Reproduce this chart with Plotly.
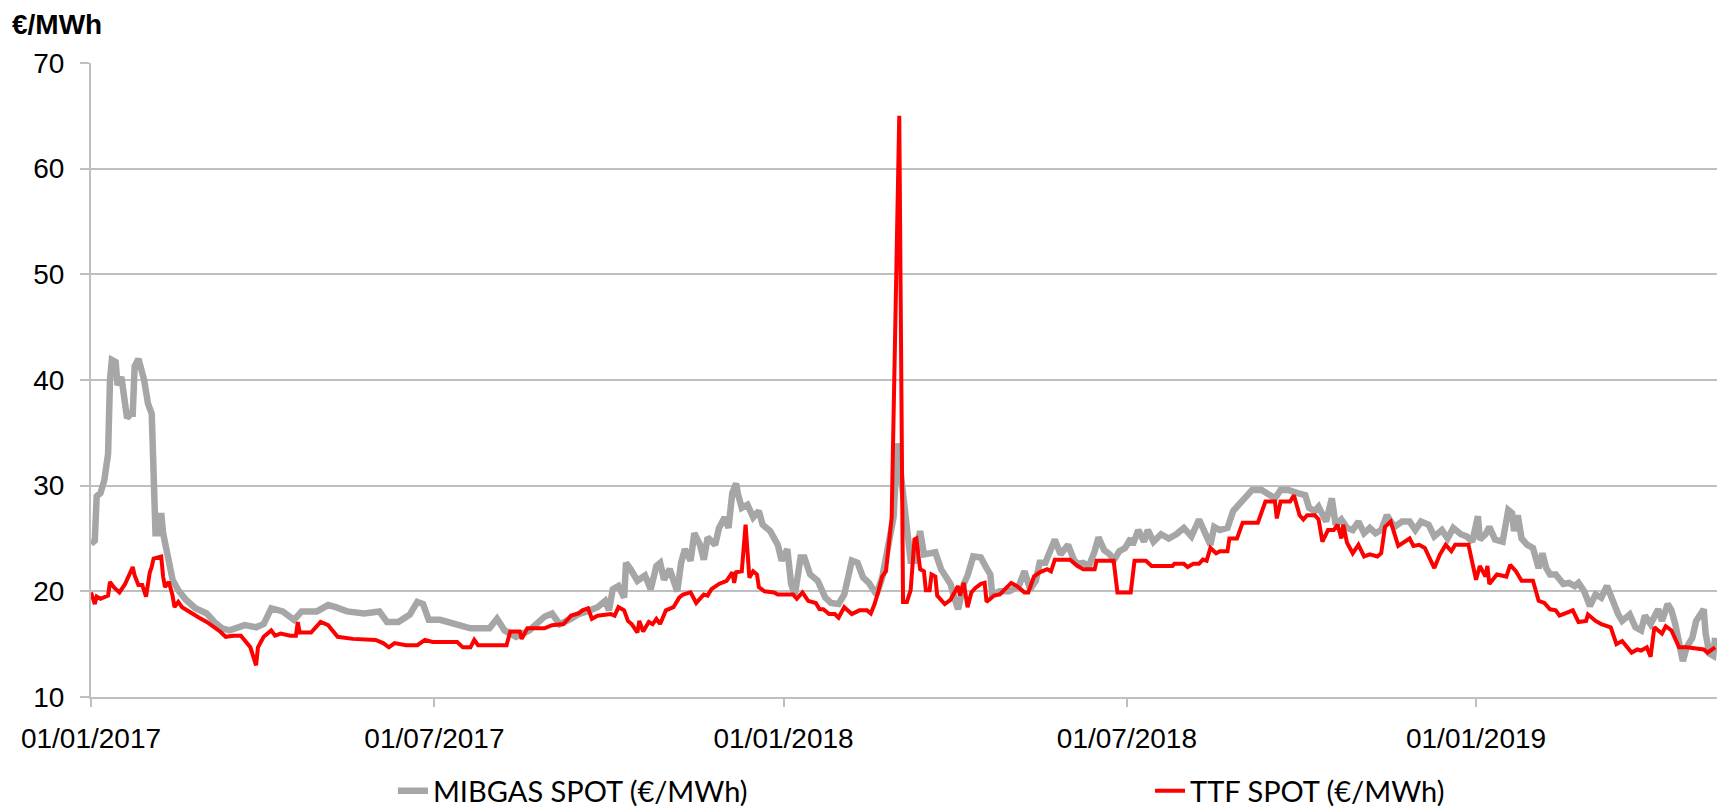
import pandas as pd
import plotly.graph_objects as go

# ---- data (days counted from 01/01/2017) ----
START = "2017-01-01"

mibgas_day = [0, 2, 3, 5, 7, 9, 10, 11, 13, 14, 16, 18, 19, 21, 22, 23, 25, 28, 30, 32,
              33, 34, 35, 37, 38, 40, 43, 46, 50, 55, 61, 65, 69, 73, 81, 87, 91, 95, 101, 107,
              111, 119, 125, 129, 135, 144, 152, 156, 162, 168, 172, 175, 178, 184, 192, 200, 210, 214, 218, 224,
              231, 239, 243, 247, 253, 257, 263, 267, 271, 273, 275, 278, 281, 282, 284, 288, 292, 295, 298, 300,
              302, 305, 309, 311, 313, 316, 318, 321, 323, 325, 329, 331, 334, 336, 338, 340, 341, 343, 346, 349,
              352, 354, 358, 362, 364, 367, 369, 371, 374, 376, 379, 383, 387, 390, 394, 397, 399, 401, 404, 407,
              410, 414, 417, 420, 423, 425, 428, 430, 432, 434, 437, 439, 443, 445, 448, 451, 453, 455, 457, 460,
              462, 465, 469, 472, 474, 475, 479, 484, 489, 492, 495, 498, 500, 503, 505, 508, 511, 515, 518, 520,
              523, 526, 529, 531, 534, 537, 539, 542, 545, 548, 549, 552, 555, 557, 560, 564, 568, 572, 576, 580,
              584, 587, 590, 592, 595, 599, 602, 605, 608, 612, 617, 621, 624, 627, 631, 636, 640, 642, 645, 647,
              651, 654, 656, 659, 662, 665, 668, 671, 674, 677, 680, 683, 687, 691, 695, 698, 701, 705, 708, 712,
              715, 718, 722, 725, 728, 731, 732, 735, 737, 740, 744, 747, 749, 750, 752, 754, 757, 760, 763, 765,
              767, 769, 772, 776, 779, 782, 784, 787, 790, 793, 796, 799, 802, 805, 807, 811, 814, 817, 819, 822,
              826, 828, 831, 833, 835, 837, 839, 841, 844, 846, 848, 850, 851, 853, 855, 856]
mibgas_val = [24.5, 24.8, 29.0, 29.3, 30.5, 33.0, 40.0, 41.9, 41.7, 39.5, 40.3, 37.2, 36.4, 36.8, 36.8, 41.3, 42.0, 40.0, 37.8, 36.8,
              32.0, 25.5, 25.5, 27.4, 25.5, 23.6, 21.1, 20.1, 19.2, 18.4, 17.9, 17.1, 16.5, 16.3, 16.8, 16.6, 16.9, 18.4, 18.1, 17.3,
              18.1, 18.1, 18.7, 18.5, 18.1, 17.9, 18.1, 17.1, 17.1, 17.8, 19.0, 18.8, 17.3, 17.3, 16.9, 16.5, 16.5, 17.4, 16.3, 15.7,
              16.3, 17.6, 17.9, 16.9, 17.4, 17.85, 18.2, 18.5, 19.1, 18.2, 20.2, 20.5, 19.4, 22.7, 22.2, 21.0, 21.5, 20.2, 22.4, 22.7,
              21.1, 22.1, 20.0, 22.7, 24.0, 22.9, 25.5, 24.4, 23.0, 25.1, 24.4, 26.0, 27.0, 26.0, 29.3, 30.2, 29.2, 27.9, 28.2, 27.0,
              27.6, 26.3, 25.7, 24.4, 22.9, 24.0, 20.7, 19.7, 23.2, 23.2, 21.6, 21.0, 19.4, 18.9, 18.8, 19.7, 21.3, 22.9, 22.7, 21.3,
              20.8, 19.7, 21.3, 24.1, 27.0, 34.0, 29.5, 26.6, 22.9, 22.9, 25.7, 23.5, 23.7, 23.7, 22.1, 21.3, 20.7, 19.4, 18.3, 20.7,
              21.5, 23.3, 23.2, 22.2, 21.6, 19.7, 20.0, 20.0, 20.5, 21.9, 20.2, 21.0, 22.7, 22.7, 23.5, 24.9, 23.5, 24.4, 23.0, 22.6,
              22.7, 22.4, 23.8, 25.1, 23.9, 23.5, 22.9, 23.8, 24.1, 25.0, 24.4, 25.8, 24.7, 25.8, 24.7, 25.4, 25.0, 25.4, 26.0, 25.2,
              26.8, 25.4, 24.4, 26.1, 25.8, 26.0, 27.6, 28.2, 28.8, 29.6, 29.6, 29.1, 28.8, 29.6, 29.6, 29.3, 29.1, 27.9, 27.6, 28.0,
              26.6, 28.8, 26.3, 26.8, 26.0, 25.8, 26.6, 25.5, 26.0, 25.5, 25.8, 27.2, 26.1, 26.6, 26.6, 25.8, 26.6, 26.3, 25.2, 25.8,
              25.0, 26.0, 25.4, 25.2, 24.7, 27.1, 24.9, 25.4, 26.1, 24.9, 24.7, 27.7, 27.4, 25.7, 27.2, 25.0, 24.4, 24.1, 22.2, 23.6,
              22.2, 21.6, 21.6, 20.7, 20.8, 20.5, 20.8, 20.0, 18.6, 19.7, 19.4, 20.5, 19.1, 17.8, 17.2, 17.8, 16.6, 16.3, 17.7, 16.9,
              18.3, 17.2, 18.8, 18.2, 16.9, 14.7, 13.4, 14.7, 15.6, 17.2, 17.8, 18.3, 16.0, 14.1, 13.9, 15.6]

ttf_day = [0, 2, 3, 5, 9, 10, 12, 15, 18, 22, 23, 25, 27, 29, 31, 32, 33, 37, 38, 39,
           41, 43, 44, 46, 48, 53, 57, 61, 65, 68, 71, 75, 79, 82, 84, 87, 88, 91, 95, 97,
           100, 105, 108, 109, 110, 116, 121, 125, 130, 138, 145, 150, 154, 157, 160, 166, 172, 176, 180, 193,
           196, 200, 202, 204, 219, 221, 226, 227, 230, 239, 243, 249, 253, 257, 259, 262, 264, 267, 274, 276,
           278, 281, 283, 285, 288, 289, 291, 294, 296, 298, 300, 303, 307, 310, 312, 316, 319, 323, 325, 327,
           331, 335, 338, 339, 340, 343, 345, 347, 349, 351, 352, 355, 360, 362, 370, 372, 375, 378, 382, 384,
           386, 389, 392, 394, 397, 401, 405, 409, 411, 413, 415, 417, 419, 420, 422, 426, 428, 430, 432, 434,
           435, 437, 439, 440, 442, 443, 445, 446, 450, 453, 457, 458, 460, 462, 464, 466, 469, 471, 472, 476,
           479, 485, 488, 492, 494, 497, 500, 504, 506, 508, 516, 520, 523, 529, 530, 539, 541, 548, 550, 556,
           559, 570, 571, 576, 578, 581, 584, 586, 588, 590, 593, 595, 599, 600, 604, 607, 615, 619, 624, 625,
           627, 632, 634, 637, 639, 641, 645, 647, 649, 652, 655, 657, 659, 660, 662, 665, 668, 671, 674, 678,
           680, 682, 685, 689, 692, 695, 697, 700, 703, 706, 708, 711, 714, 717, 719, 726, 728, 730, 732, 735,
           736, 737, 741, 746, 748, 751, 754, 760, 763, 766, 769, 772, 774, 778, 781, 784, 788, 789, 793, 796,
           801, 804, 807, 812, 815, 817, 820, 822, 824, 828, 830, 833, 837, 841, 850, 852, 856]
ttf_val = [19.9, 18.8, 19.5, 19.3, 19.6, 20.9, 20.4, 19.9, 20.7, 22.3, 21.5, 20.6, 20.6, 19.5, 21.8, 22.3, 23.1, 23.3, 21.4, 20.4,
           20.9, 19.6, 18.5, 19.0, 18.5, 17.9, 17.5, 17.1, 16.6, 16.2, 15.7, 15.8, 15.8, 15.2, 14.7, 13.0, 14.7, 15.7, 16.3, 15.8,
           16.0, 15.8, 15.8, 17.1, 16.1, 16.1, 17.1, 16.8, 15.7, 15.5, 15.4, 15.4, 15.1, 14.7, 15.1, 14.9, 14.9, 15.4, 15.2, 15.2,
           14.7, 14.7, 15.4, 14.9, 14.9, 16.2, 16.2, 15.5, 16.5, 16.5, 16.8, 16.9, 17.7, 17.9, 18.2, 18.4, 17.4, 17.7, 17.85, 17.7,
           18.5, 18.2, 17.2, 16.9, 16.1, 17.2, 16.2, 17.1, 16.9, 17.4, 16.9, 18.2, 18.5, 19.4, 19.7, 19.9, 18.9, 19.7, 19.6, 20.2,
           20.7, 21.0, 21.8, 20.8, 21.8, 21.9, 26.3, 21.3, 21.9, 21.6, 20.4, 20.0, 19.9, 19.7, 19.7, 19.3, 19.9, 19.1, 18.9, 18.3,
           18.3, 17.85, 17.85, 17.5, 18.5, 17.85, 18.2, 18.2, 17.9, 18.8, 20.0, 21.4, 21.9, 23.8, 27.0, 65.0, 19.0, 19.0, 20.1, 24.9,
           25.0, 22.1, 21.9, 20.1, 20.1, 21.6, 21.4, 19.6, 18.8, 19.2, 20.5, 19.6, 20.8, 18.5, 19.9, 20.3, 20.7, 20.8, 19.0, 19.6,
           19.7, 20.8, 20.5, 19.9, 19.9, 21.4, 21.8, 22.1, 21.9, 23.0, 23.0, 22.4, 22.1, 22.1, 22.9, 22.9, 19.9, 19.9, 22.9, 22.9,
           22.4, 22.4, 22.6, 22.6, 22.3, 22.6, 22.6, 23.0, 22.9, 24.1, 23.6, 23.8, 23.8, 25.0, 25.0, 26.5, 26.5, 28.5, 28.5, 26.9,
           28.5, 28.5, 29.1, 27.2, 26.8, 27.2, 27.2, 26.8, 24.7, 25.8, 25.8, 26.3, 25.0, 26.3, 24.6, 23.6, 24.4, 23.3, 23.5, 23.3,
           23.6, 26.1, 26.6, 24.3, 24.7, 25.0, 24.3, 24.4, 24.1, 22.9, 22.2, 23.5, 24.4, 23.8, 24.4, 24.4, 22.5, 21.1, 22.4, 21.4,
           22.4, 20.7, 21.6, 21.4, 22.5, 21.9, 21.0, 21.0, 19.1, 18.9, 18.3, 18.2, 17.7, 18.0, 18.2, 17.1, 17.2, 17.8, 17.2, 16.9,
           16.6, 15.0, 15.3, 14.2, 14.5, 14.4, 14.7, 13.8, 16.6, 16.0, 16.7, 16.3, 14.7, 14.7, 14.5, 14.2, 14.7]

x_tick_dates = ["2017-01-01", "2017-07-01", "2018-01-01", "2018-07-01", "2019-01-01"]
x_tick_text = ["01/01/2017", "01/07/2017", "01/01/2018", "01/07/2018", "01/01/2019"]
x_range = ["2017-01-01", "2019-05-08"]
y_range = [10, 70]

series_names = ["MIBGAS SPOT (€/MWh)", "TTF SPOT (€/MWh)"]
y_title = "€/MWh"


def to_dates(days):
    return pd.Timestamp(START) + pd.to_timedelta(days, unit="D")


GRID = "#BFBFBF"
AXFONT = dict(family="Liberation Sans, Arial, sans-serif", size=28, color="#000000")
LEGFONT = dict(family="Lato, sans-serif", size=29, color="#000000")

fig = go.Figure()
fig.add_trace(go.Scatter(
    x=to_dates(mibgas_day), y=mibgas_val, mode="lines", name=series_names[0],
    line=dict(color="#A6A6A6", width=6.5), legend="legend",
))
fig.add_trace(go.Scatter(
    x=to_dates(ttf_day), y=ttf_val, mode="lines", name=series_names[1],
    line=dict(color="#FF0000", width=4), legend="legend2",
))

# the page body adds an 8px margin, so the figure is 8px smaller than the window
fig.update_layout(
    width=1725, height=802, autosize=False,
    paper_bgcolor="white", plot_bgcolor="white",
    margin=dict(l=83, r=16, t=55, b=113, autoexpand=False),
    showlegend=True,
    legend=dict(
        orientation="h", x=0.1857, xanchor="left", y=-0.148, yanchor="middle",
        font=LEGFONT, bgcolor="rgba(0,0,0,0)",
    ),
    legend2=dict(
        orientation="h", x=0.6513, xanchor="left", y=-0.148, yanchor="middle",
        font=LEGFONT, bgcolor="rgba(0,0,0,0)",
    ),
    annotations=[dict(
        text="<b>" + y_title + "</b>", xref="paper", yref="paper",
        x=-0.0492, y=1.0868, xanchor="left", yanchor="top", showarrow=False,
        borderpad=0,
        font=dict(family="Liberation Sans, Arial, sans-serif", size=28, color="#000000"),
    )],
)

fig.update_xaxes(
    type="date", range=x_range, automargin=False,
    tickvals=x_tick_dates, ticktext=x_tick_text,
    showgrid=False, zeroline=False,
    showline=True, linecolor=GRID, linewidth=2,
    ticks="outside", ticklen=8, tickwidth=2, tickcolor=GRID,
    tickfont=AXFONT, ticklabelstandoff=7,
)
fig.update_yaxes(
    range=y_range, dtick=10, tick0=10, automargin=False,
    showgrid=True, gridcolor=GRID, gridwidth=2, zeroline=False,
    showline=True, linecolor=GRID, linewidth=2,
    ticks="outside", ticklen=9, tickwidth=2, tickcolor=GRID,
    tickfont=AXFONT, ticklabelstandoff=10,
)

fig.write_html("out.html")
